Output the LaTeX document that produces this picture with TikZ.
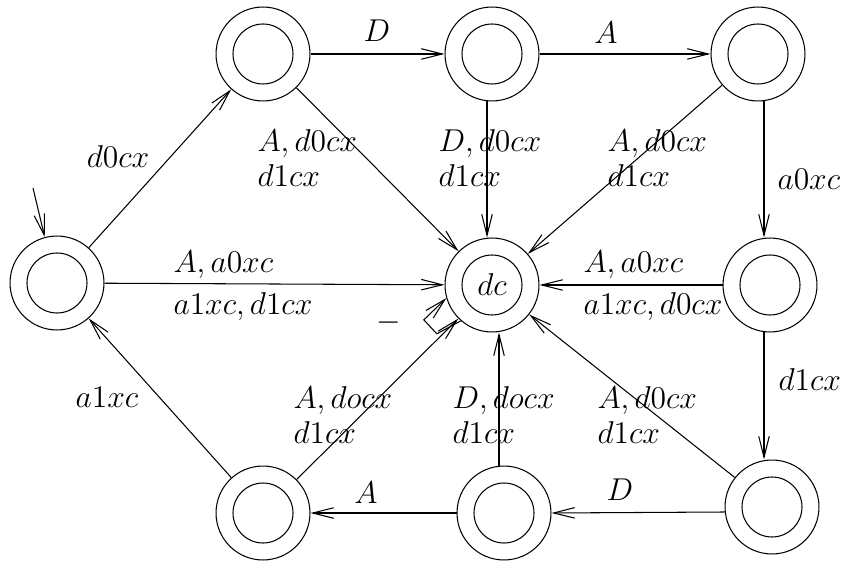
\documentclass[tikz,border=0pt]{standalone}
\usetikzlibrary{arrows.meta,calc}
\begin{document}
\begin{tikzpicture}[x=0.38pt,y=-0.38pt,
        >={Straight Barb[length=8pt,width=4pt]},
        every node/.style={font=\fontsize{11.5}{13.3}\selectfont},
        state/.style={circle,draw,minimum size=35.7pt,inner sep=0pt,
            path picture={\draw (path picture bounding box.center) circle (11.4pt);}},
        lbl/.style={inner sep=0pt,align=left}]
    \useasboundingbox (0,0) rectangle (842,565);
    % states
    \node[state] (l)  at (57,283)  {};
    \node[state] (tl) at (263,54)  {};
    \node[state] (tm) at (492,54)  {};
    \node[state] (tr) at (758,54)  {};
    \node[state] (dc) at (492,285) {$dc$};
    \node[state] (r)  at (770,285) {};
    \node[state] (bl) at (263,513) {};
    \node[state] (bm) at (504,513) {};
    \node[state] (br) at (772,507) {};
    % initial
    \coordinate (init) at (33,188);
    \draw[->] (init) -- (l.105);
    % transitions
    \foreach \a/\b in {l/tl,tl/tm,tm/tr,tl/dc,tr/dc,l/dc,r/dc,
            bm/bl,bl/l,bl/dc,br/dc}
        \draw[->] (\a) -- (\b);
    \draw[->] ($(tm.south)+(-5,0)$) -- ($(dc.north)+(-5,0)$);
    \draw[->] ($(tr.south)+(6,0)$) -- ($(r.north)+(-6,0)$);
    \draw[->] ($(r.south)+(-6,0)$) -- ($(br.north)+(-8,0)$);
    \draw[->] ($(br.west)+(0,5)$) -- (bm.east);
    \draw[->] ($(bm.north)+(-5,0)$) -- ($(dc.south)+(7,0)$);
    \draw[->] (dc.229) -- ++(-24,13) -- ++(-13,-14) -- (dc.196);
    % labels
    \node[lbl] (lD)   at (377,31)  {$D$};
    \node[lbl] (lA)   at (606,33)  {$A$};
    \node[lbl] (ld0)  at (118,157) {$d0cx$};
    \node[lbl,anchor=west] (ltl) at (257,158) {$A, d0cx$\\$d1cx$};
    \node[lbl,anchor=west] (ltm) at (438,158) {$D, d0cx$\\$d1cx$};
    \node[lbl,anchor=west] (ltr) at (607,158) {$A, d0cx$\\$d1cx$};
    \node[lbl,anchor=west] (la0) at (777,179) {$a0xc$};
    \node[lbl,anchor=west] (llu) at (173,265) {$A, a0xc$};
    \node[lbl,anchor=west] (lld) at (173,307) {$a1xc, d1cx$};
    \node[lbl,anchor=west] (lru) at (583,265) {$A, a0xc$};
    \node[lbl,anchor=west] (lrd) at (583,307) {$a1xc, d0cx$};
    \node[lbl] (lloop) at (389,323) {$-$};
    \node[lbl] (la1)  at (107,397) {$a1xc$};
    \node[lbl,anchor=west] (lbl) at (293,415) {$A, docx$\\$d1cx$};
    \node[lbl,anchor=west] (lbm) at (452,415) {$D, docx$\\$d1cx$};
    \node[lbl,anchor=west] (lbr) at (597,415) {$A, d0cx$\\$d1cx$};
    \node[lbl,anchor=west] (ld1) at (778,380) {$d1cx$};
    \node[lbl] (lAb)  at (366,493) {$A$};
    \node[lbl] (lDb)  at (620,490) {$D$};
\end{tikzpicture}
\end{document}
